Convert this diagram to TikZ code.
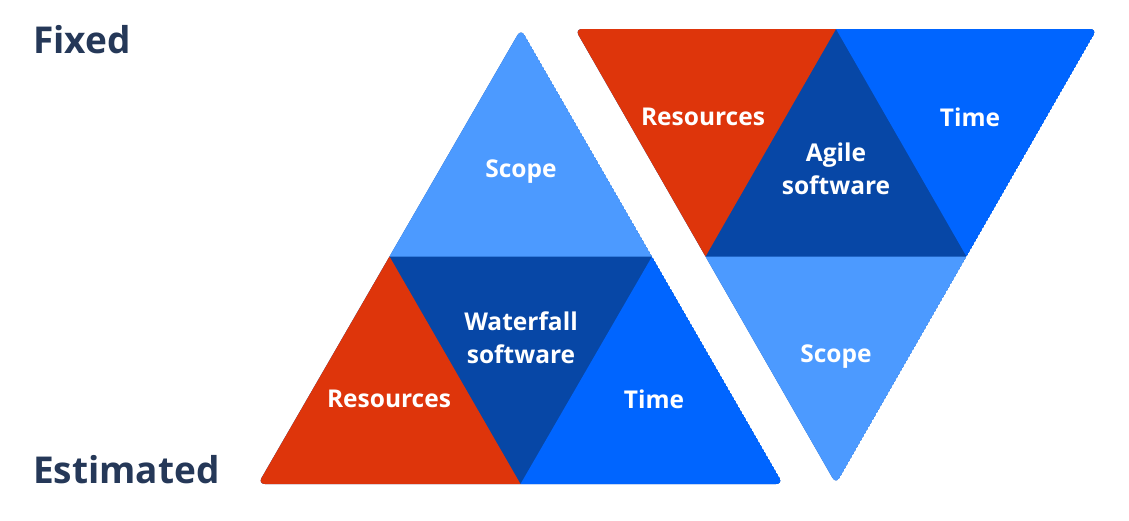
\documentclass[tikz,border=0pt]{standalone}
\usepackage{fontspec}
\setmainfont{Open Sans}
\usetikzlibrary{calc}
\definecolor{fixedred}{HTML}{DE350B}
\definecolor{deepblue}{HTML}{0747A6}
\definecolor{midblue}{HTML}{0065FF}
\definecolor{paleblue}{HTML}{4C9AFF}
\definecolor{inkblue}{HTML}{253858}
\begin{document}
\begin{tikzpicture}[x=1pt, y=-1pt]
\tikzset{partlabel/.style={text=white, align=center, font=\fontsize{24.5}{33}\selectfont\bfseries},
  sidelabel/.style={text=inkblue, anchor=base west, inner sep=0pt, font=\fontsize{37}{40}\selectfont\bfseries}}
\useasboundingbox (0,0) rectangle (1129,520);
% waterfall triangle
\coordinate (LA) at (521,29);
\coordinate (LB) at (258,484);
\coordinate (LC) at (783,484);
\coordinate (LAB) at ($(LA)!0.5!(LB)$);
\coordinate (LAC) at ($(LA)!0.5!(LC)$);
\coordinate (LBC) at ($(LB)!0.5!(LC)$);
\begin{scope}
\clip[rounded corners=7] (LA) -- (LB) -- (LC) -- cycle;
\fill[deepblue] (LA) -- (LB) -- (LC) -- cycle;
\fill[paleblue] (LA) -- (LAB) -- (LAC) -- cycle;
\fill[fixedred] (LAB) -- (LB) -- (LBC) -- cycle;
\fill[midblue] (LAC) -- (LBC) -- (LC) -- cycle;
\end{scope}
% agile triangle
\coordinate (RA) at (575,29);
\coordinate (RB) at (1097,29);
\coordinate (RC) at (836,484);
\coordinate (RAB) at ($(RA)!0.5!(RB)$);
\coordinate (RAC) at ($(RA)!0.5!(RC)$);
\coordinate (RBC) at ($(RB)!0.5!(RC)$);
\begin{scope}
\clip[rounded corners=7] (RA) -- (RB) -- (RC) -- cycle;
\fill[deepblue] (RA) -- (RB) -- (RC) -- cycle;
\fill[fixedred] (RA) -- (RAB) -- (RAC) -- cycle;
\fill[midblue] (RAB) -- (RB) -- (RBC) -- cycle;
\fill[paleblue] (RAC) -- (RBC) -- (RC) -- cycle;
\end{scope}
% labels
\node[sidelabel] (fixed) at (33,53) {Fixed};
\node[sidelabel] (estimated) at (33,483) {Estimated};
\node[partlabel] (wscope) at (521,172) {Scope};
\node[partlabel] (wsoft) at (521,338) {Waterfall\\software};
\node[partlabel] (wres) at (389,399) {Resources};
\node[partlabel] (wtime) at (654,399) {Time};
\node[partlabel] (ares) at (703,117) {Resources};
\node[partlabel] (atime) at (970,117) {Time};
\node[partlabel] (asoft) at (836,169) {Agile\\software};
\node[partlabel] (ascope) at (836,357) {Scope};
\end{tikzpicture}
\end{document}
